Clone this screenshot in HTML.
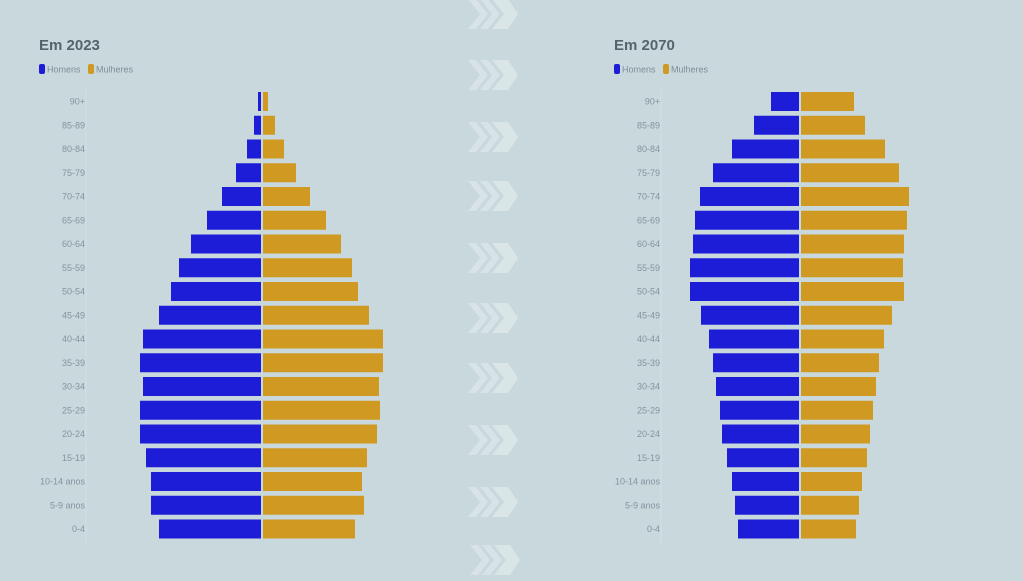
<!DOCTYPE html>
<html><head><meta charset="utf-8"><style>
html,body{margin:0;padding:0;background:#c9d8dc;}
svg{display:block}
text{font-family:"Liberation Sans",sans-serif}
</style></head><body>
<svg width="1023" height="581" viewBox="0 0 1023 581" xmlns="http://www.w3.org/2000/svg">
<rect width="1023" height="581" fill="#c9d8dc"/>
<defs>
<g id="chev">
<polygon points="0,0 8,0 20,15 8,30 0,30 12,15" fill="#d7e3e6"/>
<polygon points="12,0 20,0 32,15 20,30 12,30 24,15" fill="#d7e3e6"/>
<polygon points="24,0 40,0 50,15 40,30 24,30 36,15" fill="#d9e5e7"/>
</g>
</defs>
<use href="#chev" x="468" y="-1"/>
<use href="#chev" x="468" y="60"/>
<use href="#chev" x="468" y="122"/>
<use href="#chev" x="468" y="181"/>
<use href="#chev" x="468" y="243"/>
<use href="#chev" x="468" y="303"/>
<use href="#chev" x="468" y="363"/>
<use href="#chev" x="468" y="425"/>
<use href="#chev" x="468" y="487"/>
<use href="#chev" x="470" y="545"/>

<!-- Left chart -->
<text x="39" y="50" font-size="15" fill="#56636c" font-weight="bold">Em 2023</text>
<rect x="39" y="64" width="6" height="10" rx="2" fill="#1d1dd8"/>
<text x="47" y="72.5" font-size="9" fill="#7f8d96">Homens</text>
<rect x="88" y="64" width="6" height="10" rx="2" fill="#d09a22"/>
<text x="96" y="72.5" font-size="9" fill="#7f8d96">Mulheres</text>
<line x1="86" y1="90" x2="86" y2="545" stroke="#d2dfe2" stroke-width="1"/>

<g font-size="9" fill="#8593a0" text-anchor="end">
<text x="85" y="104.5">90+</text>
<text x="85" y="128.3">85-89</text>
<text x="85" y="152">80-84</text>
<text x="85" y="175.8">75-79</text>
<text x="85" y="199.5">70-74</text>
<text x="85" y="223.3">65-69</text>
<text x="85" y="247">60-64</text>
<text x="85" y="270.8">55-59</text>
<text x="85" y="294.5">50-54</text>
<text x="85" y="318.3">45-49</text>
<text x="85" y="342">40-44</text>
<text x="85" y="365.8">35-39</text>
<text x="85" y="389.5">30-34</text>
<text x="85" y="413.3">25-29</text>
<text x="85" y="437">20-24</text>
<text x="85" y="460.8">15-19</text>
<text x="85" y="484.5">10-14 anos</text>
<text x="85" y="508.3">5-9 anos</text>
<text x="85" y="532">0-4</text>
</g>

<g fill="#1d1dd8">
<rect x="258" y="92" width="3" height="19"/>
<rect x="254" y="115.75" width="7" height="19"/>
<rect x="247" y="139.5" width="14" height="19"/>
<rect x="236" y="163.25" width="25" height="19"/>
<rect x="222" y="187" width="39" height="19"/>
<rect x="207" y="210.75" width="54" height="19"/>
<rect x="191" y="234.5" width="70" height="19"/>
<rect x="179" y="258.25" width="82" height="19"/>
<rect x="171" y="282" width="90" height="19"/>
<rect x="159" y="305.75" width="102" height="19"/>
<rect x="143" y="329.5" width="118" height="19"/>
<rect x="140" y="353.25" width="121" height="19"/>
<rect x="143" y="377" width="118" height="19"/>
<rect x="140" y="400.75" width="121" height="19"/>
<rect x="140" y="424.5" width="121" height="19"/>
<rect x="146" y="448.25" width="115" height="19"/>
<rect x="151" y="472" width="110" height="19"/>
<rect x="151" y="495.75" width="110" height="19"/>
<rect x="159" y="519.5" width="102" height="19"/>
</g>
<g fill="#d09a22">
<rect x="263" y="92" width="5" height="19"/>
<rect x="263" y="115.75" width="12" height="19"/>
<rect x="263" y="139.5" width="21" height="19"/>
<rect x="263" y="163.25" width="33" height="19"/>
<rect x="263" y="187" width="47" height="19"/>
<rect x="263" y="210.75" width="63" height="19"/>
<rect x="263" y="234.5" width="78" height="19"/>
<rect x="263" y="258.25" width="89" height="19"/>
<rect x="263" y="282" width="95" height="19"/>
<rect x="263" y="305.75" width="106" height="19"/>
<rect x="263" y="329.5" width="120" height="19"/>
<rect x="263" y="353.25" width="120" height="19"/>
<rect x="263" y="377" width="116" height="19"/>
<rect x="263" y="400.75" width="117" height="19"/>
<rect x="263" y="424.5" width="114" height="19"/>
<rect x="263" y="448.25" width="104" height="19"/>
<rect x="263" y="472" width="99" height="19"/>
<rect x="263" y="495.75" width="101" height="19"/>
<rect x="263" y="519.5" width="92" height="19"/>
</g>

<!-- Right chart -->
<text x="614" y="50" font-size="15" fill="#56636c" font-weight="bold">Em 2070</text>
<rect x="614" y="64" width="6" height="10" rx="2" fill="#1d1dd8"/>
<text x="622" y="72.5" font-size="9" fill="#7f8d96">Homens</text>
<rect x="663" y="64" width="6" height="10" rx="2" fill="#d09a22"/>
<text x="671" y="72.5" font-size="9" fill="#7f8d96">Mulheres</text>
<line x1="661" y1="90" x2="661" y2="545" stroke="#d2dfe2" stroke-width="1"/>

<g font-size="9" fill="#8593a0" text-anchor="end">
<text x="660" y="104.5">90+</text>
<text x="660" y="128.3">85-89</text>
<text x="660" y="152">80-84</text>
<text x="660" y="175.8">75-79</text>
<text x="660" y="199.5">70-74</text>
<text x="660" y="223.3">65-69</text>
<text x="660" y="247">60-64</text>
<text x="660" y="270.8">55-59</text>
<text x="660" y="294.5">50-54</text>
<text x="660" y="318.3">45-49</text>
<text x="660" y="342">40-44</text>
<text x="660" y="365.8">35-39</text>
<text x="660" y="389.5">30-34</text>
<text x="660" y="413.3">25-29</text>
<text x="660" y="437">20-24</text>
<text x="660" y="460.8">15-19</text>
<text x="660" y="484.5">10-14 anos</text>
<text x="660" y="508.3">5-9 anos</text>
<text x="660" y="532">0-4</text>
</g>

<g fill="#1d1dd8">
<rect x="771" y="92" width="28" height="19"/>
<rect x="754" y="115.75" width="45" height="19"/>
<rect x="732" y="139.5" width="67" height="19"/>
<rect x="713" y="163.25" width="86" height="19"/>
<rect x="700" y="187" width="99" height="19"/>
<rect x="695" y="210.75" width="104" height="19"/>
<rect x="693" y="234.5" width="106" height="19"/>
<rect x="690" y="258.25" width="109" height="19"/>
<rect x="690" y="282" width="109" height="19"/>
<rect x="701" y="305.75" width="98" height="19"/>
<rect x="709" y="329.5" width="90" height="19"/>
<rect x="713" y="353.25" width="86" height="19"/>
<rect x="716" y="377" width="83" height="19"/>
<rect x="720" y="400.75" width="79" height="19"/>
<rect x="722" y="424.5" width="77" height="19"/>
<rect x="727" y="448.25" width="72" height="19"/>
<rect x="732" y="472" width="67" height="19"/>
<rect x="735" y="495.75" width="64" height="19"/>
<rect x="738" y="519.5" width="61" height="19"/>
</g>
<g fill="#d09a22">
<rect x="801" y="92" width="53" height="19"/>
<rect x="801" y="115.75" width="64" height="19"/>
<rect x="801" y="139.5" width="84" height="19"/>
<rect x="801" y="163.25" width="98" height="19"/>
<rect x="801" y="187" width="108" height="19"/>
<rect x="801" y="210.75" width="106" height="19"/>
<rect x="801" y="234.5" width="103" height="19"/>
<rect x="801" y="258.25" width="102" height="19"/>
<rect x="801" y="282" width="103" height="19"/>
<rect x="801" y="305.75" width="91" height="19"/>
<rect x="801" y="329.5" width="83" height="19"/>
<rect x="801" y="353.25" width="78" height="19"/>
<rect x="801" y="377" width="75" height="19"/>
<rect x="801" y="400.75" width="72" height="19"/>
<rect x="801" y="424.5" width="69" height="19"/>
<rect x="801" y="448.25" width="66" height="19"/>
<rect x="801" y="472" width="61" height="19"/>
<rect x="801" y="495.75" width="58" height="19"/>
<rect x="801" y="519.5" width="55" height="19"/>
</g>
</svg>
</body></html>
